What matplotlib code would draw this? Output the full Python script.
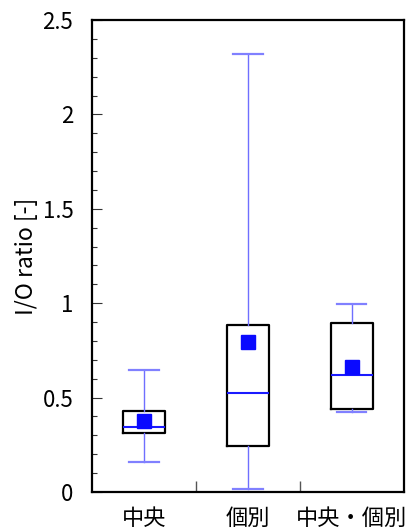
import matplotlib
matplotlib.use('Agg')
import matplotlib.pyplot as plt
from matplotlib.ticker import MultipleLocator, FixedLocator, NullFormatter, FuncFormatter

plt.rcParams['font.family'] = ['Noto Sans CJK JP', 'DejaVu Sans']

# --- Data ---
labels = ['中央', '個別', '中央・個別']
q1 = [0.314, 0.245, 0.438]
median = [0.346, 0.524, 0.621]
q3 = [0.430, 0.886, 0.893]
whisker_lo = [0.160, 0.016, 0.425]
whisker_hi = [0.645, 2.320, 0.996]
means = [0.378, 0.793, 0.664]

stats = []
for i, lab in enumerate(labels):
    stats.append({
        'label': lab,
        'q1': q1[i], 'med': median[i], 'q3': q3[i],
        'whislo': whisker_lo[i], 'whishi': whisker_hi[i],
        'mean': means[i], 'fliers': [],
    })

fig = plt.figure(figsize=(4.08, 5.32), dpi=100)
ax = fig.add_axes([0.2255, 0.0752, 0.7645, 0.8872])

ax.bxp(stats, positions=[1, 2, 3], widths=0.41, showmeans=True,
       showfliers=False, capwidths=0.28,
       boxprops=dict(color='black', linewidth=1.6),
       medianprops=dict(color='#1a1aff', linewidth=1.5),
       whiskerprops=dict(color='#6f6fff', linewidth=1.0),
       capprops=dict(color='#8080ff', linewidth=1.6),
       meanprops=dict(marker='s', markerfacecolor='#0a0aff',
                      markeredgecolor='#0a0aff', markersize=9.5))

ax.set_xlim(0.5, 3.5)
ax.set_ylim(0, 2.5)

ax.yaxis.set_major_locator(MultipleLocator(0.5))
ax.yaxis.set_minor_locator(MultipleLocator(0.1))
ax.yaxis.set_major_formatter(FuncFormatter(lambda v, pos: f'{v:g}'))
ax.tick_params(axis='y', which='major', direction='in', length=7,
               width=0.8, color='#333333', labelsize=16, pad=13.5)
ax.tick_params(axis='y', which='minor', direction='in', length=3.6,
               width=0.8, color='#333333')

# category labels centred, tick marks between categories
ax.set_xticks([1, 2, 3])
ax.set_xticklabels(labels)
ax.xaxis.set_minor_locator(FixedLocator([1.5, 2.5]))
ax.xaxis.set_minor_formatter(NullFormatter())
ax.tick_params(axis='x', which='major', length=0, labelsize=16, pad=11)
ax.tick_params(axis='x', which='minor', direction='in', length=8,
               width=1.0, color='#555555')

for sp in ax.spines.values():
    sp.set_linewidth(1.6)
    sp.set_color('black')

ax.set_ylabel('I/O ratio [-]', fontsize=16.5, labelpad=3)

fig.savefig('out.png', dpi=100)
